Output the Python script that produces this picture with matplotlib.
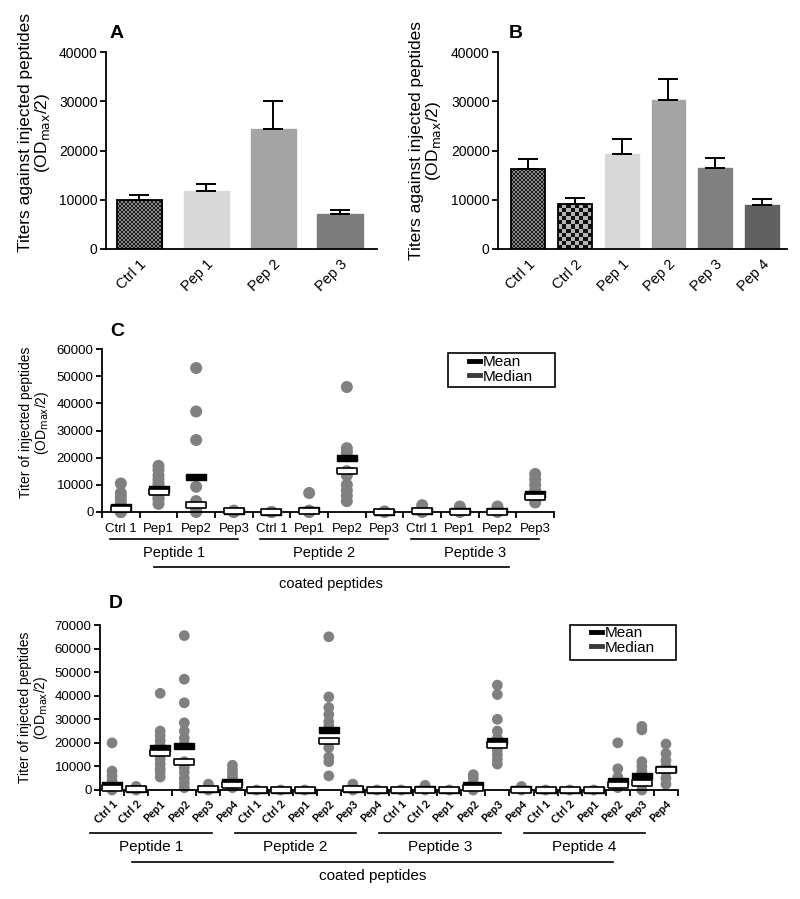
import numpy as np
import matplotlib
matplotlib.use('Agg')
import matplotlib.pyplot as plt
from matplotlib.colors import ListedColormap
from matplotlib.lines import Line2D
from matplotlib.patches import Rectangle
from matplotlib.path import Path

SANS = ['Liberation Sans', 'DejaVu Sans']
plt.rcParams['font.family'] = SANS

# ---- data: panel A / B (mean + sem bars)
a_labels = ['Ctrl 1', 'Pep 1', 'Pep 2', 'Pep 3']
a_means = [10000, 11700, 24300, 7200]
a_err = [1000, 1500, 5700, 700]

b_labels = ['Ctrl 1', 'Ctrl 2', 'Pep 1', 'Pep 2', 'Pep 3', 'Pep 4']
b_means = [16200, 9100, 19300, 30300, 16400, 9000]
b_err = [2000, 1200, 3000, 4300, 2000, 1200]

# ---- data: panel C (individual titers, 3 coated peptides x 4 injected groups)
c_groups = ['Peptide 1', 'Peptide 2', 'Peptide 3']
c_cats = ['Ctrl 1', 'Pep1', 'Pep2', 'Pep3']
c_points = [
    [10500, 7000, 5500, 4000, 2500, 1500, 500, 0, 0],
    [17000, 15500, 13500, 12000, 10500, 9500, 8500, 7500, 6500, 5500, 4500, 3000],
    [53000, 37000, 26500, 9300, 4000, 2500, 1000, 0],
    [500, 0, 0],
    [0, 0],
    [7000, 500, 0, 0],
    [46000, 23500, 22000, 20500, 15000, 13500, 10000, 8000, 6000, 4000],
    [200, 0],
    [2500, 500, 0],
    [2000, 0],
    [2000, 0],
    [14000, 12000, 10000, 8000, 5500, 3500],
]
c_mean = [2000, 8300, 12700, 200, 0, 800, 20000, 100, 300, 200, 200, 6700]
c_median = [1000, 7300, 2500, 200, 0, 300, 15000, 100, 200, 100, 100, 5600]

# ---- data: panel D (4 coated peptides x 6 injected groups)
d_groups = ['Peptide 1', 'Peptide 2', 'Peptide 3', 'Peptide 4']
d_cats = ['Ctrl 1', 'Ctrl 2', 'Pep1', 'Pep2', 'Pep3', 'Pep4']
d_points = [
    [20000, 8000, 6000, 4000, 2000, 0],
    [1500, 0],
    [41000, 25000, 23000, 21000, 19000, 17000, 15000, 13000, 11000, 9000, 7500, 5500],
    [65500, 47000, 37000, 28500, 25000, 22000, 19500, 12000, 9500, 7500, 5000, 3000, 1000],
    [2500, 0],
    [10500, 8500, 7000, 5500, 4000, 2500, 1000],
    [0], [0], [0],
    [65000, 39500, 35000, 32000, 29000, 27000, 18000, 14000, 12000, 6000],
    [2500, 0],
    [0],
    [0],
    [2000, 0],
    [0],
    [6500, 5000, 3000, 1500, 0],
    [44500, 40500, 30000, 25000, 22000, 19000, 17000, 15000, 13000, 11000],
    [1500, 0],
    [0], [0], [0],
    [20000, 9000, 5500, 3000, 1000],
    [27000, 25500, 12000, 10000, 8000, 4500, 2000, 0],
    [19500, 15500, 12500, 10000, 7500, 5000, 2500],
]
d_mean = [2000, 300, 18000, 18500, 500, 3500, 0, 0, 0, 25500, 500, 0,
          0, 300, 0, 2000, 21000, 300, 0, 0, 0, 3700, 6000, 8700]
d_median = [700, 300, 15500, 12000, 300, 2000, 0, 0, 0, 21000, 300, 0,
            0, 200, 0, 800, 19000, 200, 0, 0, 0, 2300, 3000, 8300]

W, H = 800, 899
fig = plt.figure(figsize=(W / 100, H / 100), dpi=100)


def px_axes(l, t, r, b):
    return fig.add_axes([l / W, 1 - b / H, (r - l) / W, (b - t) / H])


def style(ax, fs):
    for s in ['top', 'right']:
        ax.spines[s].set_visible(False)
    for s in ['left', 'bottom']:
        ax.spines[s].set_linewidth(1.3)
    ax.tick_params(axis='y', direction='out', length=4, width=1.3, labelsize=fs, pad=2)


def letter(txt, x, y):
    fig.text(x / W, 1 - y / H, txt, fontsize=14, fontweight='bold', ha='center', va='center')


def checker(ax, bar, cell, c1, c2):
    x0, y0 = bar.get_x(), bar.get_y()
    x1, y1 = x0 + bar.get_width(), y0 + bar.get_height()
    (p0, q0), (p1, q1) = ax.transData.transform([(x0, y0), (x1, y1)])
    nx = max(1, int(round((p1 - p0) / cell)))
    ny = max(1, int(round((q1 - q0) / cell)))
    grid = np.add.outer(np.arange(ny), np.arange(nx)) % 2
    im = ax.imshow(grid, cmap=ListedColormap([c1, c2]), extent=(x0, x1, y0, y1),
                   aspect='auto', interpolation='nearest', origin='lower', zorder=1.5)
    im.set_clip_path(bar)


def bar_panel(ax, labels, means, errs, colors, checks, width, xlim):
    style(ax, 10)
    ax.set_xlim(*xlim)
    ax.set_ylim(0, 40000)
    ax.set_yticks(np.arange(0, 40001, 10000))
    x = np.arange(len(labels))
    bars = ax.bar(x, means, width=width, color=colors, edgecolor=colors, linewidth=1, zorder=2)
    ax.errorbar(x, means, yerr=[np.zeros(len(errs)), errs], fmt='none', ecolor='black',
                elinewidth=1.4, capsize=7.5, capthick=1.4, zorder=3)
    for b, ck in zip(bars, checks):
        if ck:
            b.set_facecolor('none')
            b.set_edgecolor('black')
            b.set_linewidth(1.3)
            checker(ax, b, *ck)
    ax.set_xticks(x, labels, rotation=45, ha='right', rotation_mode='anchor', fontsize=10.5)
    ax.tick_params(axis='x', length=0, pad=6)
    ax.set_ylabel('Titers against injected peptides\n(OD$_{\\mathrm{max}}$/2)',
                  fontsize=12.5, linespacing=1.0)


# ---- A
axA = px_axes(106, 52, 377, 249)
bar_panel(axA, a_labels, a_means, a_err,
          ['none', '#d8d8d8', '#a4a4a4', '#7c7c7c'],
          [(2, '#1a1a1a', '#8a8a8a'), None, None, None],
          0.68, (-0.5, 3.55))
axA.yaxis.set_label_coords(-0.20, 0.59)
letter('A', 117, 33)

# ---- B
axB = px_axes(498, 52, 787, 249)
bar_panel(axB, b_labels, b_means, b_err,
          ['none', 'none', '#d8d8d8', '#a4a4a4', '#808080', '#616161'],
          [(2, '#1a1a1a', '#8a8a8a'), (4, '#111111', '#b4b4b4'), None, None, None, None],
          0.72, (-0.64, 5.53))
axB.yaxis.set_label_coords(-0.19, 0.55)
letter('B', 516, 33)

# markers for mean / median
box = Path([(-3.4, -1), (3.4, -1), (3.4, 1), (-3.4, 1), (-3.4, -1)])


def dot_panel(ax, points, means, medians, cats, groups, ymax, dot_s, msize,
              cat_y, gline, gtext, cline, ctext, gspan, cspan, rotated):
    style(ax, 9.5)
    n = len(points)
    ax.set_xlim(-0.5, n - 0.5)
    ax.set_ylim(0, ymax)
    ax.set_yticks(np.arange(0, ymax + 1, 10000))
    ax.set_xticks(np.arange(-0.5, n, 1))
    ax.tick_params(axis='x', direction='out', length=4, width=1.3, labelbottom=False)
    for i, pts in enumerate(points):
        ax.scatter(np.full(len(pts), i), pts, s=dot_s, color='#808080',
                   edgecolors='none', zorder=2, clip_on=False)
    x = np.arange(n)
    ax.plot(x, means, ls='none', marker=box, markersize=msize, mfc='black', mec='black',
            mew=1.0, zorder=3, clip_on=False)
    ax.plot(x, medians, ls='none', marker=box, markersize=msize, mfc='white', mec='black',
            mew=1.2, zorder=4, clip_on=False)
    tr = ax.get_xaxis_transform()
    k = len(cats)
    for i in range(n):
        lab = cats[i % k]
        if rotated:
            ax.text(i + 0.15, cat_y, lab, transform=tr, rotation=45, ha='right',
                    va='center', rotation_mode='anchor', fontsize=8, fontweight='bold',
                    family=['Lato', 'DejaVu Sans'])
        else:
            ax.text(i, cat_y, lab, transform=tr, ha='center', va='center', fontsize=9.5)
    fs = 11 if rotated else 10.5
    for g, name in enumerate(groups):
        a0, a1 = g * k + gspan[0], g * k + gspan[1]
        ax.add_line(Line2D([a0, a1], [gline, gline], transform=tr, color='black',
                           lw=1.2, clip_on=False))
        ax.text((a0 + a1) / 2, gtext, name, transform=tr, ha='center', va='center',
                fontsize=fs)
    ax.add_line(Line2D(cspan, [cline, cline], transform=tr, color='black', lw=1.2,
                       clip_on=False))
    ax.text(sum(cspan) / 2, ctext, 'coated peptides', transform=tr, ha='center',
            va='center', fontsize=fs)
    ax.set_ylabel('Titer of injected peptides\n(OD$_{\\mathrm{max}}$/2)', fontsize=10,
                  linespacing=1.0)


def legend_box(l, t, r, b, hx, hy):
    fig.add_artist(Rectangle((l / W, 1 - b / H), (r - l) / W, (b - t) / H,
                             transform=fig.transFigure, fill=False, ec='black', lw=1.2))
    handles = [Line2D([], [], color='black', lw=3.5),
               Line2D([], [], color='#3a3a3a', lw=3.5)]
    fig.legend(handles, ['Mean', 'Median'], loc='upper left',
               bbox_to_anchor=(hx / W, 1 - hy / H), frameon=False, borderpad=0,
               borderaxespad=0, handlelength=0.75, handletextpad=0.15,
               labelspacing=0.05, fontsize=11)


# ---- C
axC = px_axes(102, 349, 554, 512)
dot_panel(axC, c_points, c_mean, c_median, c_cats, c_groups, 60000, 75, 15,
          cat_y=-0.105, gline=-0.166, gtext=-0.25, cline=-0.337, ctext=-0.44,
          gspan=(-0.3, 3.1), cspan=(0.87, 10.3), rotated=False)
axC.yaxis.set_label_coords(-0.112, 0.55)
legend_box(448, 353, 555, 387, 469, 355)
letter('C', 117, 332)

# ---- D
axD = px_axes(100, 625, 678, 790)
dot_panel(axD, d_points, d_mean, d_median, d_cats, d_groups, 70000, 60, 14,
          cat_y=-0.07, gline=-0.26, gtext=-0.345, cline=-0.436, ctext=-0.52,
          gspan=(-0.9, 4.15), cspan=(0.83, 20.8), rotated=True)
axD.yaxis.set_label_coords(-0.086, 0.5)
legend_box(570, 625, 676, 660, 591, 626)
letter('D', 116, 604)

fig.savefig('out.png', dpi=100)
